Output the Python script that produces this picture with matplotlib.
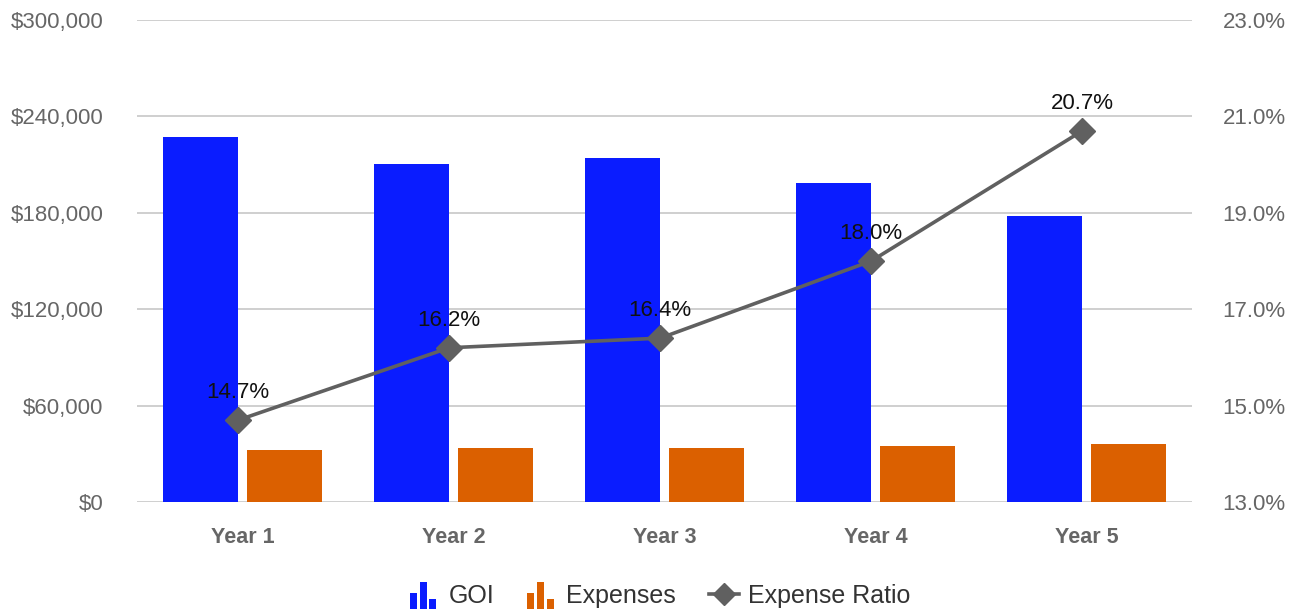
import matplotlib
matplotlib.use("Agg")
import matplotlib.pyplot as plt
import numpy as np
from matplotlib.legend_handler import HandlerBase
from matplotlib.patches import Rectangle
from matplotlib.lines import Line2D
from matplotlib.ticker import FuncFormatter, FixedLocator

plt.rcParams['font.family'] = ['Liberation Sans', 'DejaVu Sans']

years = ["Year 1", "Year 2", "Year 3", "Year 4", "Year 5"]
goi = [227300, 210400, 214200, 198600, 178300]
expenses = [32300, 33600, 33600, 34800, 36100]
expense_ratio = [14.7, 16.2, 16.4, 18.0, 20.7]

c_goi = "#0a1cff"
c_exp = "#db6000"
c_line = "#606060"
c_grid = "#cccccc"
c_tick = "#666666"

W, H = 1298, 609
fig = plt.figure(figsize=(W / 100, H / 100), dpi=100)
ax = fig.add_axes([137 / W, 107 / H, (1192 - 137) / W, 482 / H])
ax2 = ax.twinx()

x = np.arange(len(years))
bw = 0.356
gap = 0.038
ax.bar(x - (bw + gap) / 2, goi, width=bw, color=c_goi, zorder=2)
ax.bar(x + (bw + gap) / 2, expenses, width=bw, color=c_exp, zorder=2)

ax.set_xlim(-0.5, len(years) - 0.5)
ax.set_ylim(0, 300000)
ax.yaxis.set_major_locator(FixedLocator(np.arange(0, 300001, 60000)))
ax.yaxis.set_major_formatter(FuncFormatter(lambda v, p: f"${v:,.0f}"))
ax.grid(axis='y', color=c_grid, linewidth=1.3, zorder=0)
ax.set_axisbelow(True)
ax.set_xticks(x)
ax.set_xticklabels(years, fontweight='bold')
ax.tick_params(axis='x', length=0, pad=18, labelsize=15.5, labelcolor=c_tick)
ax.tick_params(axis='y', length=0, pad=24, labelsize=16, labelcolor=c_tick)
for s in ax.spines.values():
    s.set_visible(False)

ax2.set_ylim(13, 23)
ax2.yaxis.set_major_locator(FixedLocator(np.arange(13, 23.01, 2)))
ax2.yaxis.set_major_formatter(FuncFormatter(lambda v, p: f"{v:.1f}%"))
ax2.tick_params(axis='y', length=0, pad=22, labelsize=16, labelcolor=c_tick)
for s in ax2.spines.values():
    s.set_visible(False)

lx = x - 0.02
ax2.plot(lx, expense_ratio, color=c_line, linewidth=2.6, marker='D', markersize=13.5,
         zorder=3, solid_capstyle='butt')
for xi, v in zip(lx, expense_ratio):
    ax2.annotate(f"{v:.1f}%", (xi, v), xytext=(0, 16), textcoords='offset points',
                 ha='center', va='baseline', fontsize=16, color='#111111')


class BarIconHandler(HandlerBase):
    def __init__(self, color):
        super().__init__()
        self.color = color

    def create_artists(self, legend, orig_handle, xdescent, ydescent, width, height, fontsize, trans):
        arts = []
        total = fontsize * 1.05
        bwid = total * 0.26
        step = total * 0.37
        bottom = -ydescent - fontsize * 0.22
        full = fontsize * 1.05
        heights = [0.6, 1.0, 0.38]
        for i, hh in enumerate(heights):
            r = Rectangle((-xdescent + i * step, bottom), bwid, full * hh,
                          facecolor=self.color, edgecolor='none', transform=trans)
            arts.append(r)
        return arts


h_goi = Rectangle((0, 0), 1, 1, color=c_goi)
h_exp = Rectangle((0, 0), 1, 1, color=c_exp)
h_line = Line2D([], [], color=c_line, linewidth=2.6, marker='D', markersize=11)
fig.legend([h_goi, h_exp, h_line], ["GOI", "Expenses", "Expense Ratio"],
           loc='center', bbox_to_anchor=(660 / W, 1 - 596 / H), ncol=3, frameon=False,
           fontsize=18, labelcolor='#333333', handlelength=1.2, handletextpad=0.36,
           columnspacing=1.3,
           handler_map={h_goi: BarIconHandler(c_goi), h_exp: BarIconHandler(c_exp)})

fig.savefig("out.png", dpi=100)
